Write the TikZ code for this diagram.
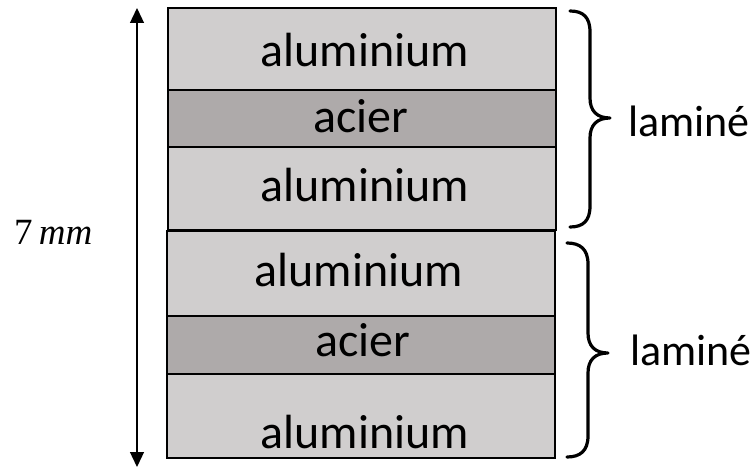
\documentclass[tikz,border=0pt]{standalone}
\usepackage{fontspec}
\setmainfont{Carlito}
\newfontfamily\dimfont{Liberation Serif}
\usetikzlibrary{arrows.meta}
\definecolor{alu}{HTML}{D0CECE}
\definecolor{steel}{HTML}{AEAAAA}
\begin{document}
\begin{tikzpicture}[x=1pt,y=-1pt,
  layer/.style={draw=black, line width=1.8pt, inner sep=0pt, outer sep=0pt},
  lbl/.style={font=\fontsize{48}{58}\selectfont, anchor=base, inner sep=0pt},
  lamlbl/.style={font=\fontsize{44}{52}\selectfont, anchor=base west, inner sep=0pt},
  bracket/.style={line width=3.2pt, line cap=round, line join=round},
  dimline/.style={line width=1.3pt,
    {Triangle[width=14pt,length=15pt]}-{Triangle[width=14pt,length=15pt]}},
]
\useasboundingbox (0,0) rectangle (756,468);

% upper laminate
\node[layer, fill=alu,   minimum width=388pt, minimum height=82pt] (t1) at (362,49) {};
\node[layer, fill=steel, minimum width=388pt, minimum height=57pt] (t2) at (362,118.5) {};
\node[layer, fill=alu,   minimum width=388pt, minimum height=83pt] (t3) at (362,188.5) {};

% lower laminate
\node[layer, fill=alu,   minimum width=388pt, minimum height=85pt] (b1) at (361,273.5) {};
\node[layer, fill=steel, minimum width=388pt, minimum height=58pt] (b2) at (361,345) {};
\node[layer, fill=alu,   minimum width=388pt, minimum height=84pt] (b3) at (361,416) {};

% layer names
\node[lbl] (t1txt) at (365,66.7) {aluminium};
\node[lbl] (t2txt) at (360.5,133) {acier};
\node[lbl] (t3txt) at (365,202) {aluminium};
\node[lbl] (b1txt) at (359,286.7) {aluminium};
\node[lbl] (b2txt) at (363,356.7) {acier};
\node[lbl] (b3txt) at (365,448.3) {aluminium};

% total thickness
\coordinate (dtop) at (137,8);
\coordinate (dbot) at (137,467);
\draw[dimline] (dtop) -- (dbot);
\node[anchor=base west, inner sep=0pt, font=\fontsize{37}{44}\selectfont\dimfont] (dim) at (14,244) {7\,\itshape mm};

% braces
\draw[bracket] (570,11) .. controls (583,11) and (590,17) .. (590,32) -- (590,98)
  .. controls (590,111) and (597,118) .. (610,118)
  .. controls (597,118) and (590,125) .. (590,138) -- (590,206)
  .. controls (590,221) and (583,227) .. (570,227);
\node[lamlbl] (lam1) at (628,137) {laminé};

\draw[bracket] (567,243) .. controls (580,243) and (588,249) .. (588,264) -- (588,333)
  .. controls (588,346) and (595,353) .. (608,353)
  .. controls (595,353) and (588,360) .. (588,373) -- (588,436)
  .. controls (588,451) and (580,457) .. (567,457);
\node[lamlbl] (lam2) at (630,365) {laminé};
\end{tikzpicture}
\end{document}
